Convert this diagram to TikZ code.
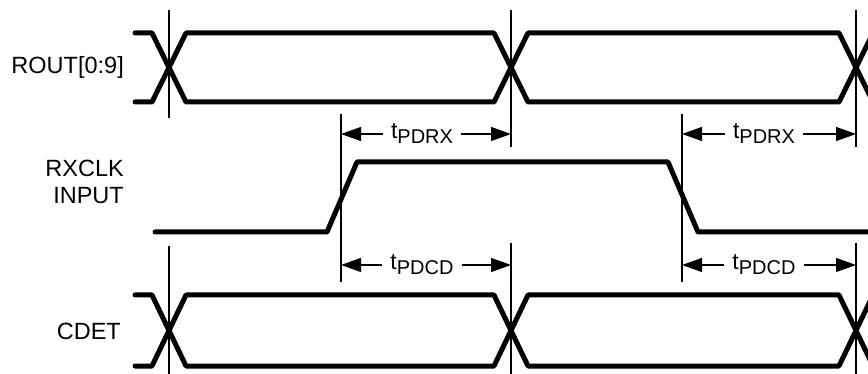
\documentclass[tikz,border=0pt]{standalone}
\usepackage{fontspec}
\setmainfont{Liberation Sans}
\usetikzlibrary{arrows.meta}
\newcommand{\tdel}[1]{t\raisebox{-5pt}{\fontsize{20}{22}\selectfont #1}}

\begin{document}
\begin{tikzpicture}[x=1pt, y=-1pt,
  sig/.style={line width=5pt, line join=round, line cap=round},
  guide/.style={line width=1.3pt},
  dimarr/.style={-{Triangle[length=20pt, width=14pt]}, line width=1.3pt},
  lbl/.style={font=\fontsize{23.5}{27}\selectfont, anchor=east, align=right, inner sep=0pt},
  tlbl/.style={font=\fontsize{23}{26}\selectfont, inner xsep=8pt, inner ysep=0pt}
]
  \useasboundingbox (0,0) rectangle (868,374);
  \clip (0,0) rectangle (868,374);

  % Signal names
  \node[lbl] (rout) at (124,67) {ROUT[0:9]};
  \node[lbl] (rxclk) at (124,182) {RXCLK\\INPUT};
  \node[lbl] (cdet) at (121,331) {CDET};

  % ROUT[0:9] bus
  \draw[sig] (135,33) -- (152,33) -- (186,102) -- (494,102) -- (528,33) -- (839,33) -- (873,102);
  \draw[sig] (135,102) -- (152,102) -- (186,33) -- (494,33) -- (528,102) -- (839,102) -- (873,33);

  % RXCLK input
  \draw[sig] (155,232) -- (327,232) -- (357,162) -- (668,162) -- (698,232) -- (880,232);

  % CDET bus
  \draw[sig] (135,295) -- (152,295) -- (186,366) -- (494,366) -- (528,295) -- (839,295) -- (873,366);
  \draw[sig] (135,366) -- (152,366) -- (186,295) -- (494,295) -- (528,366) -- (839,366) -- (873,295);

  % Reference lines
  \draw[guide] (169,10) -- (169,118);
  \draw[guide] (169,246) -- (169,374);
  \draw[guide] (511,10) -- (511,147);
  \draw[guide] (511,243) -- (511,374);
  \draw[guide] (856,10) -- (856,147);
  \draw[guide] (856,243) -- (856,374);
  \draw[guide] (341,114) -- (341,282);
  \draw[guide] (682,114) -- (682,282);

  \coordinate (rxa) at (341,134);
  \coordinate (rxb) at (511,134);
  \coordinate (rxc) at (682,134);
  \coordinate (rxd) at (856,134);
  \coordinate (cda) at (341,265);
  \coordinate (cdb) at (511,265);
  \coordinate (cdc) at (682,265);
  \coordinate (cdd) at (856,265);

  % Delays
  \node[tlbl] (rx1) at (422,134) {\tdel{PDRX}};
  \node[tlbl] (rx2) at (764,134) {\tdel{PDRX}};
  \node[tlbl] (cd1) at (422,265) {\tdel{PDCD}};
  \node[tlbl] (cd2) at (764,265) {\tdel{PDCD}};

  \draw[dimarr] (rx1.west) -- (rx1.west -| rxa);
  \draw[dimarr] (rx1.east) -- (rx1.east -| rxb);
  \draw[dimarr] (rx2.west) -- (rx2.west -| rxc);
  \draw[dimarr] (rx2.east) -- (rx2.east -| rxd);
  \draw[dimarr] (cd1.west) -- (cd1.west -| cda);
  \draw[dimarr] (cd1.east) -- (cd1.east -| cdb);
  \draw[dimarr] (cd2.west) -- (cd2.west -| cdc);
  \draw[dimarr] (cd2.east) -- (cd2.east -| cdd);
\end{tikzpicture}
\end{document}
